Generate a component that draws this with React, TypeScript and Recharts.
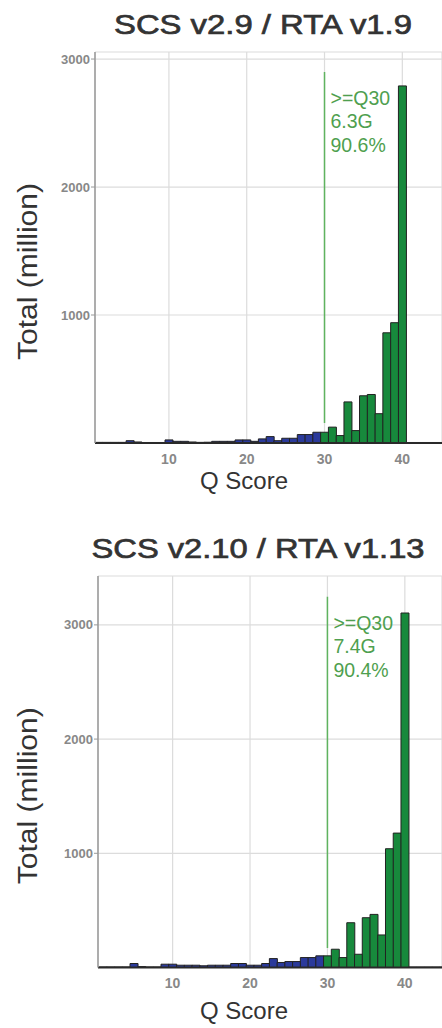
import { BarChart, Bar, Cell, XAxis, YAxis, CartesianGrid, ReferenceLine } from "recharts";

const qScores = [
  1, 2, 3, 4, 5, 6, 7, 8, 9, 10, 11, 12, 13, 14, 15, 16, 17, 18, 19, 20, 21, 22, 23,
  24, 25, 26, 27, 28, 29, 30, 31, 32, 33, 34, 35, 36, 37, 38, 39, 40, 41, 42, 43, 44, 45,
];

// total reads (million) per Q score, SCS v2.9 / RTA v1.9
const totalsV29 = [
  5, 5, 5, 5, 18, 8, 4, 4, 4, 24, 13, 13, 8, 5, 6, 13, 13, 13, 24, 24, 13, 32, 50,
  18, 37, 37, 66, 66, 84, 84, 124, 58, 321, 97, 369, 379, 229, 861, 940, 2790, 4, 4, 4, 4, 4,
];

// total reads (million) per Q score, SCS v2.10 / RTA v1.13
const totalsV210 = [
  5, 5, 5, 5, 35, 8, 5, 5, 29, 29, 20, 20, 20, 15, 20, 20, 20, 35, 35, 20, 20, 35, 78,
  44, 52, 52, 87, 87, 102, 102, 160, 87, 392, 116, 436, 465, 285, 1040, 1177, 3104, 4, 4, 4, 4, 4,
];

const xTicks = [10, 20, 30, 40];
const yTicks = [1000, 2000, 3000];

const GREEN = "#17893c";
const BLUE = "#2b3a9b";
const MARK = "#5fb35f";
const NOTE = "#4f9f4f";
const GRAY = "#999";

type PanelProps = {
  title: string;
  titleX: number;
  titleLen: number;
  values: number[];
  yieldText: string;
  pctText: string;
  top: number;
  height: number;
  plotTop: number;
  plotBottom: number;
  yWidth: number;
  xDomain: [number, number];
  yMax: number;
  markLow: number;
  markHigh: number;
  xLabelDy: number;
};

const QPanel = (p: PanelProps) => {
  const data = qScores.map((q, i) => ({ q, total: p.values[i] }));

  const xLabel = (props: any) => {
    const vb = props.viewBox;
    return (
      <text x={244} y={vb.y + p.xLabelDy} textAnchor="middle" fontSize={24} fill="#333"
        textLength={88} lengthAdjust="spacingAndGlyphs">
        Q Score
      </text>
    );
  };

  const yLabel = (props: any) => {
    const vb = props.viewBox;
    const cy = vb.y + vb.height / 2 + 24;
    return (
      <text x={37} y={cy} transform={`rotate(-90 37 ${cy})`} textAnchor="middle" fontSize={27}
        fill="#333" textLength={177} lengthAdjust="spacingAndGlyphs">
        Total (million)
      </text>
    );
  };

  const noteLabel = (props: any) => {
    const vb = props.viewBox;
    const x = vb.x + 6;
    return (
      <g fill={NOTE} fontSize={19.5}>
        <text x={x} y={vb.y + 33}>&gt;=Q30</text>
        <text x={x} y={vb.y + 56}>{p.yieldText}</text>
        <text x={x} y={vb.y + 80}>{p.pctText}</text>
      </g>
    );
  };

  return (
    <div style={{ position: "absolute", left: 0, top: p.top, width: 442, height: p.height }}>
      <svg width={442} height={p.plotTop} style={{ position: "absolute", left: 0, top: 0 }}>
        <text x={p.titleX} y={p.plotTop - 18} textAnchor="middle" fontSize={28} fill="#333"
          stroke="#333" strokeWidth={0.7}
          textLength={p.titleLen} lengthAdjust="spacingAndGlyphs">
          {p.title}
        </text>
      </svg>
      <BarChart
        width={442}
        height={p.height}
        data={data}
        margin={{ top: p.plotTop, right: 0, bottom: 0, left: 0 }}
        barCategoryGap={0}
        barGap={0}
      >
        <CartesianGrid stroke="#dcdcdc" strokeWidth={1.2} />
        <XAxis
          dataKey="q"
          type="number"
          domain={p.xDomain}
          ticks={xTicks}
          allowDataOverflow
          height={p.height - p.plotBottom}
          axisLine={{ stroke: "#2a2a2a", strokeWidth: 2 }}
          tickLine={false}
          tickMargin={5}
          tick={{ fill: "#888", fontSize: 14, fontWeight: 600 }}
          label={xLabel}
        />
        <XAxis
          xAxisId="top"
          orientation="top"
          type="number"
          domain={p.xDomain}
          allowDataOverflow
          height={0}
          tick={false}
          tickLine={false}
          axisLine={{ stroke: GRAY, strokeWidth: 1.5 }}
        />
        <YAxis
          type="number"
          domain={[0, p.yMax]}
          ticks={yTicks}
          allowDataOverflow
          width={p.yWidth}
          axisLine={{ stroke: GRAY, strokeWidth: 1.5 }}
          tickLine={{ stroke: GRAY }}
          tickSize={4}
          tickMargin={1}
          tick={{ fill: "#888", fontSize: 13, fontWeight: 600 }}
          label={yLabel}
        />
        <Bar dataKey="total" stroke="#222" strokeWidth={1} isAnimationActive={false}>
          {data.map((d) => (
            <Cell key={d.q} fill={d.q >= 30 ? GREEN : BLUE} />
          ))}
        </Bar>
        <ReferenceLine
          segment={[
            { x: 30, y: p.markLow },
            { x: 30, y: p.markHigh },
          ]}
          stroke={MARK}
          strokeWidth={1.5}
          label={noteLabel}
        />
      </BarChart>
    </div>
  );
}

export default function App() {
  return (
    <div
      style={{
        position: "absolute",
        left: 0,
        top: 0,
        width: 442,
        height: 1028,
        overflow: "hidden",
        background: "#fff",
        fontFamily: '"Liberation Sans", Arial, sans-serif',
      }}
    >
      <QPanel
        title="SCS v2.9 / RTA v1.9"
        titleX={263}
        titleLen={298}
        values={totalsV29}
        yieldText="6.3G"
        pctText="90.6%"
        top={0}
        height={500}
        plotTop={52}
        plotBottom={443}
        yWidth={95}
        xDomain={[0.5, 45.1]}
        yMax={3055}
        markLow={156}
        markHigh={2899}
        xLabelDy={46}
      />
      <QPanel
        title="SCS v2.10 / RTA v1.13"
        titleX={258}
        titleLen={333}
        values={totalsV210}
        yieldText="7.4G"
        pctText="90.4%"
        top={520}
        height={508}
        plotTop={56}
        plotBottom={447.5}
        yWidth={98}
        xDomain={[0.36, 44.8]}
        yMax={3428}
        markLow={171}
        markHigh={3247}
        xLabelDy={51}
      />
    </div>
  );
}
